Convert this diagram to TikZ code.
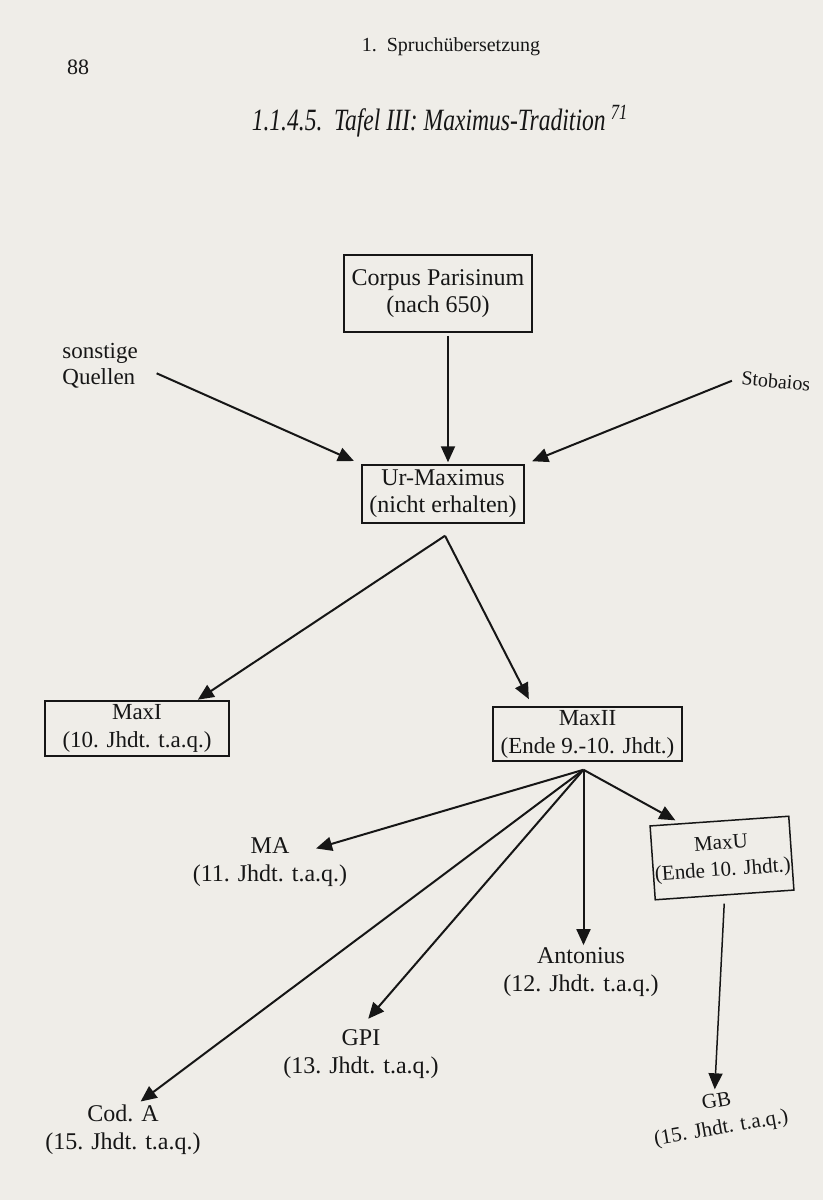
\documentclass[tikz,border=0pt]{standalone}
\usepackage{fontspec}
\setmainfont{Liberation Serif}
\newfontfamily\titlefont[FakeStretch=0.76]{Liberation Serif}
\usepackage{tikz}
\usetikzlibrary{arrows.meta}
\definecolor{paper}{RGB}{239,237,232}
\definecolor{ink}{RGB}{22,22,22}

\begin{document}
\begin{tikzpicture}[x=0.5pt,y=-0.5pt,>={Triangle[length=8pt,width=7pt]},
    every node/.style={text=ink,font=\fontsize{12}{13.5}\selectfont},
    box/.style={draw=ink,line width=0.75pt,align=center,inner sep=0pt},
    src/.style={align=center,inner sep=1pt,font=\fontsize{12}{14}\selectfont},
    small/.style={font=\fontsize{10.5}{13.5}\selectfont},
    arr/.style={->,draw=ink,line width=1pt}]
    % page
    \fill[paper] (0,0) rectangle (823,1200);
    \useasboundingbox (0,0) rectangle (823,1200);
    \node (page) at (78,67) {\fontsize{11}{13}\selectfont 88};
    \node (head) at (451,47) {\fontsize{10}{12}\selectfont 1.\ \ Spruchübersetzung};
    \node (title) at (440,121) {\titlefont\itshape\fontsize{15.5}{18}\selectfont 1.1.4.5.\ \ Tafel III: Maximus-Tradition\,\textsuperscript{71}};
    % upper part
    \node[box,minimum width=94pt,minimum height=38.5pt] (cp) at (438,293.5) {Corpus Parisinum\\(nach 650)};
    \node[box,minimum width=81pt,minimum height=29pt] (ur) at (443,494) {Ur-Maximus\\(nicht erhalten)};
    \node[src,anchor=west,align=left,font=\fontsize{11.5}{13}\selectfont] (sonst) at (60,366) {sonstige\\Quellen};
    \node[src,font=\fontsize{10}{12}\selectfont,rotate=-5] (stob) at (776,381) {Stobaios};
    \draw[arr,shorten <=1.5pt,shorten >=1pt] ([xshift=5pt]cp.south) -- ([xshift=2.5pt]ur.north);
    \draw[arr,shorten <=9pt,shorten >=4pt] (sonst.east) -- (ur.north west);
    \draw[arr,shorten <=4pt,shorten >=4pt] (stob.west) -- (ur.north east);
    % two branches
    \node[box,minimum width=92pt,minimum height=27.5pt,font=\fontsize{11.5}{14}\selectfont] (maxi) at (137,728.5) {MaxI\\(10. Jhdt. t.a.q.)};
    \node[box,minimum width=94.5pt,minimum height=27pt,font=\fontsize{11.5}{14}\selectfont] (maxii) at (587.5,734) {MaxII\\(Ende 9.-10. Jhdt.)};
    \draw[arr,shorten >=0.5pt] ([xshift=1pt,yshift=-6pt]ur.south) -- ([xshift=30pt]maxi.north);
    \draw[arr,shorten >=4pt] ([xshift=1pt,yshift=-6pt]ur.south) -- ([xshift=-27.5pt]maxii.north);
    % descendants of MaxII
    \coordinate (fan) at ([xshift=-2pt,yshift=-4pt]maxii.south);
    \node[box,small,minimum width=69.5pt,minimum height=37pt,rotate=4] (maxu) at (722,858) {MaxU\\(Ende 10. Jhdt.)};
    \node[src] (ma) at (270,862) {MA\\(11. Jhdt. t.a.q.)};
    \node[src] (anton) at (581,972) {Antonius\\(12. Jhdt. t.a.q.)};
    \node[src] (gpi) at (361,1054) {GPI\\(13. Jhdt. t.a.q.)};
    \node[src] (coda) at (123,1130) {Cod. A\\(15. Jhdt. t.a.q.)};
    \node[src,small,rotate=10] (gb) at (719,1116) {GB\\(15. Jhdt. t.a.q.)};
    \draw[arr,shorten >=24pt] (fan) -- (ma.center);
    \draw[arr,shorten >=1pt] (fan) -- ([xshift=8pt]coda.north);
    \draw[arr,shorten >=5.5pt] (fan) -- (gpi.north);
    \draw[arr] (fan) -- (fan |- anton.north);
    \draw[arr] (fan) -- ([xshift=-22pt]maxu.north);
    \draw[arr,line width=0.75pt,shorten <=4pt,shorten >=1pt] (maxu.south) -- (gb.north);
\end{tikzpicture}
\end{document}
